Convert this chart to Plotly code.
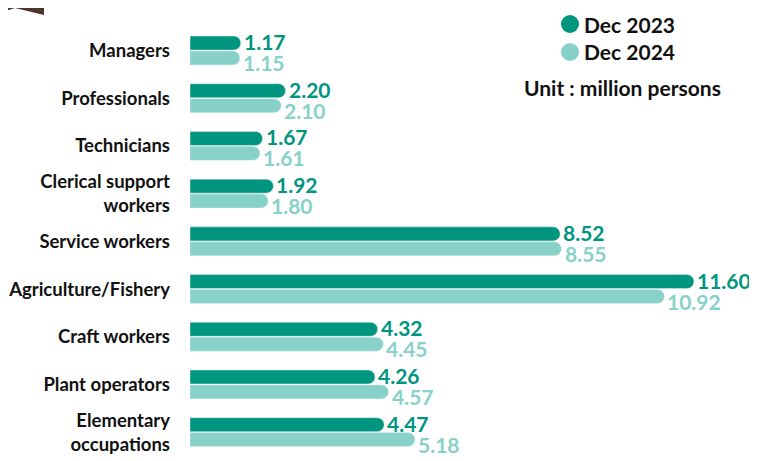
import plotly.graph_objects as go

categories = ['Managers', 'Professionals', 'Technicians', 'Clerical support<br>workers',
              'Service workers', 'Agriculture/Fishery', 'Craft workers', 'Plant operators',
              'Elementary<br>occupations']
dec_2023 = [1.17, 2.20, 1.67, 1.92, 8.52, 11.60, 4.32, 4.26, 4.47]
dec_2024 = [1.15, 2.10, 1.61, 1.80, 8.55, 10.92, 4.45, 4.57, 5.18]

DARK = '#00957f'
LIGHT = '#88d1c8'
FONT = 'Lato'

# the page puts the figure 8px in from the top-left corner
OFF = 8
L, T, R, B = 190 - OFF, 24 - OFF, 10, 5
W, H = 757 - OFF, 461 - OFF
PLOT_W = W - L - R
PLOT_H = H - T - B

fig = go.Figure()
fig.add_trace(go.Bar(y=categories, x=dec_2023, orientation='h', name='Dec 2023',
                     marker=dict(color=DARK, cornerradius=7)))
fig.add_trace(go.Bar(y=categories, x=dec_2024, orientation='h', name='Dec 2024',
                     marker=dict(color=LIGHT, cornerradius=7)))

# value labels
for cat, v in zip(categories, dec_2023):
    fig.add_annotation(x=v, y=cat, text=f'{v:.2f}', showarrow=False, xanchor='left',
                       xshift=1, yshift=9, font=dict(family=FONT, size=21, color=DARK, weight='bold'))
for cat, v in zip(categories, dec_2024):
    fig.add_annotation(x=v, y=cat, text=f'{v:.2f}', showarrow=False, xanchor='left',
                       xshift=1, yshift=-12, font=dict(family=FONT, size=21, color=LIGHT, weight='bold'))


# helpers: screen pixel -> paper coords
def px_x(p):
    return (p - OFF - L) / PLOT_W


def px_y(p):
    return (H - B - (p - OFF)) / PLOT_H


for cy, col, label in [(24, DARK, 'Dec 2023'), (52, LIGHT, 'Dec 2024')]:
    fig.add_shape(type='circle', xref='paper', yref='paper',
                  x0=px_x(561), x1=px_x(579), y0=px_y(cy + 9), y1=px_y(cy - 9),
                  fillcolor=col, line=dict(width=0))
    fig.add_annotation(xref='paper', yref='paper', x=px_x(582), y=px_y(cy), text=label,
                       showarrow=False, xanchor='left', yanchor='middle',
                       font=dict(family=FONT, size=21, color='#111111', weight='bold'))
fig.add_annotation(xref='paper', yref='paper', x=px_x(622), y=px_y(87), text='Unit : million persons',
                   showarrow=False, xanchor='center', yanchor='middle',
                   font=dict(family=FONT, size=21, color='#111111', weight='bold'))

# brown tab in the corner
fig.add_shape(type='path', xref='paper', yref='paper', fillcolor='#4f3430', line=dict(width=0),
              path=f'M {px_x(0)},{px_y(-5)} L {px_x(44)},{px_y(-5)} L {px_x(44)},{px_y(15)} '
                   f'L {px_x(15)},{px_y(8)} L {px_x(0)},{px_y(13)} Z')

fig.update_layout(
    width=W, height=H,
    margin=dict(l=L, r=R, t=T, b=B),
    plot_bgcolor='white', paper_bgcolor='white',
    barmode='group', bargap=0.375, bargroupgap=0.06,
    showlegend=False,
    xaxis=dict(range=[0, PLOT_W / 43.45], visible=False, automargin=False),
    yaxis=dict(autorange='reversed', showgrid=False, ticks='', ticklabelstandoff=19,
               automargin=False,
               tickfont=dict(family=FONT, size=18.5, color='#111111', weight='bold')),
)

fig.write_html('out.html')
